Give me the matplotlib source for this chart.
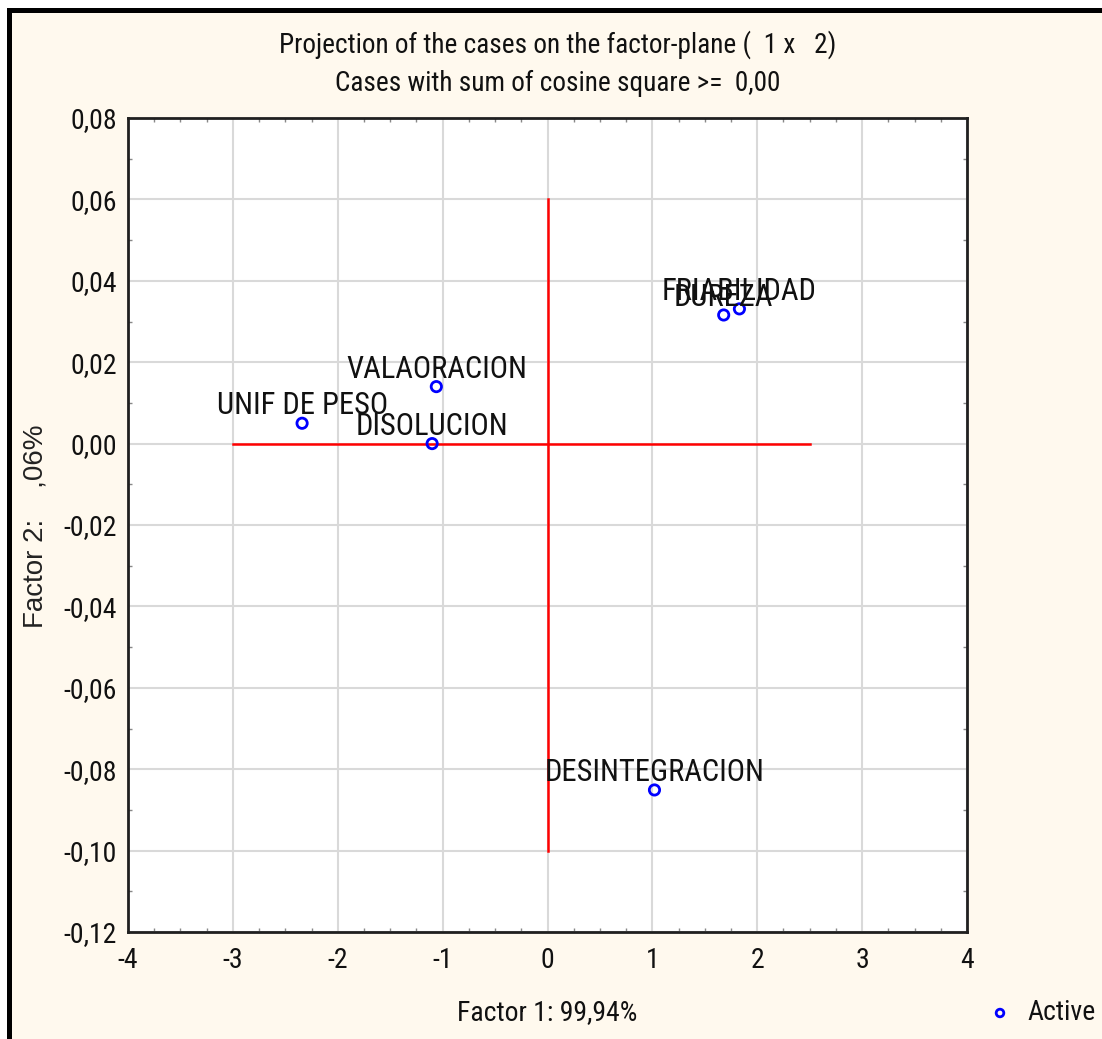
import matplotlib
matplotlib.use("Agg")
import matplotlib.pyplot as plt
from matplotlib.patches import Rectangle
from matplotlib.ticker import MultipleLocator, FuncFormatter

# Data
labels = ["UNIF DE PESO", "VALAORACION", "DISOLUCION", "DUREZA", "FRIABILIDAD", "DESINTEGRACION"]
factor1 = [-2.34, -1.06, -1.10, 1.68, 1.83, 1.02]
factor2 = [0.005, 0.014, 0.000, 0.0316, 0.0331, -0.0851]
x_ticks = [-4, -3, -2, -1, 0, 1, 2, 3, 4]
y_ticks = [-0.12, -0.10, -0.08, -0.06, -0.04, -0.02, 0.00, 0.02, 0.04, 0.06, 0.08]
hline = ([-3.0, 2.5], [0.0, 0.0])
vline = ([0.0, 0.0], [0.06, -0.10])

FONT = ['Roboto Condensed', 'DejaVu Sans']
FONT2 = ['Liberation Sans', 'DejaVu Sans']
BG = '#FFF9EE'
TXT = '#111111'

fig = plt.figure(figsize=(11.02, 10.39), dpi=100)
fig.patch.set_facecolor('white')
fig.patches.append(Rectangle((9/1102, 0), 1, 1 - 10/1039, transform=fig.transFigure,
                             facecolor=BG, edgecolor='none', zorder=-3))
fig.patches.append(Rectangle((7/1102, 0), 5/1102, 1 - 8/1039, transform=fig.transFigure,
                             facecolor='black', edgecolor='none', zorder=-2))
fig.patches.append(Rectangle((7/1102, 1 - 13/1039), 1, 5/1039, transform=fig.transFigure,
                             facecolor='black', edgecolor='none', zorder=-2))

ax = fig.add_axes([128/1102, 1 - 932/1039, (967 - 128)/1102, (932 - 118)/1039])
ax.set_facecolor('white')
ax.set_xlim(-4, 4)
ax.set_ylim(-0.12, 0.08)
ax.set_xticks(x_ticks)
ax.set_yticks(y_ticks)
ax.xaxis.set_minor_locator(MultipleLocator(0.25))
ax.yaxis.set_minor_locator(MultipleLocator(0.01))
ax.xaxis.set_major_formatter(FuncFormatter(lambda v, p: f"{v:.0f}"))
ax.yaxis.set_major_formatter(FuncFormatter(lambda v, p: f"{v:.2f}".replace('.', ',').replace('-0,00', '0,00')))
ax.grid(True, which='major', color='#d9d9d9', linewidth=1.5, zorder=0)
ax.set_axisbelow(True)
for s in ax.spines.values():
    s.set_color('#202020')
    s.set_linewidth(2)
ax.tick_params(which='major', length=0, labelsize=20, labelcolor=TXT)
ax.tick_params(axis='x', which='major', pad=11)
ax.tick_params(axis='y', which='major', pad=8)
ax.tick_params(which='minor', direction='in', length=3, width=1, color='#888888',
               top=True, right=True, bottom=True, left=True)
for lab in ax.get_xticklabels() + ax.get_yticklabels():
    lab.set_family(FONT)

ax.plot(hline[0], hline[1], color='red', linewidth=1.8, zorder=2)
ax.plot(vline[0], vline[1], color='red', linewidth=1.8, zorder=2)

ax.scatter(factor1, factor2, s=55, facecolors='none', edgecolors='blue', linewidths=2, zorder=3)
for lab, x, y in zip(labels, factor1, factor2):
    ax.annotate(lab, (x, y), xytext=(0, 6.5), textcoords='offset points', ha='center', va='baseline',
                fontsize=22, family=FONT, color=TXT, zorder=4)

fig.text(547/1102, 1 - 1013/1039, "Factor 1: 99,94%", ha='center', va='center',
         fontsize=20, family=FONT, color=TXT)
fig.text(36/1102, 1 - 526/1039, "Factor 2:    ,06%", ha='center', va='center', rotation=90,
         fontsize=20, family=FONT2, color='#222222')

fig.text(558/1102, 1 - 45/1039, "Projection of the cases on the factor-plane (  1 x   2)",
         ha='center', va='center', fontsize=19.6, family=FONT, color=TXT)
fig.text(558/1102, 1 - 83/1039, "Cases with sum of cosine square >=  0,00",
         ha='center', va='center', fontsize=19.6, family=FONT, color=TXT)

# legend
fig.text(1027/1102, 1 - 1012/1039, "Active", ha='left', va='center', fontsize=20, family=FONT,
         color=TXT)
ax.scatter([1000/1102], [1 - 1013/1039], s=30, facecolors='none', edgecolors='blue', linewidths=2,
           transform=fig.transFigure, clip_on=False, zorder=5)

fig.savefig("out.png", dpi=100, facecolor=fig.get_facecolor())
